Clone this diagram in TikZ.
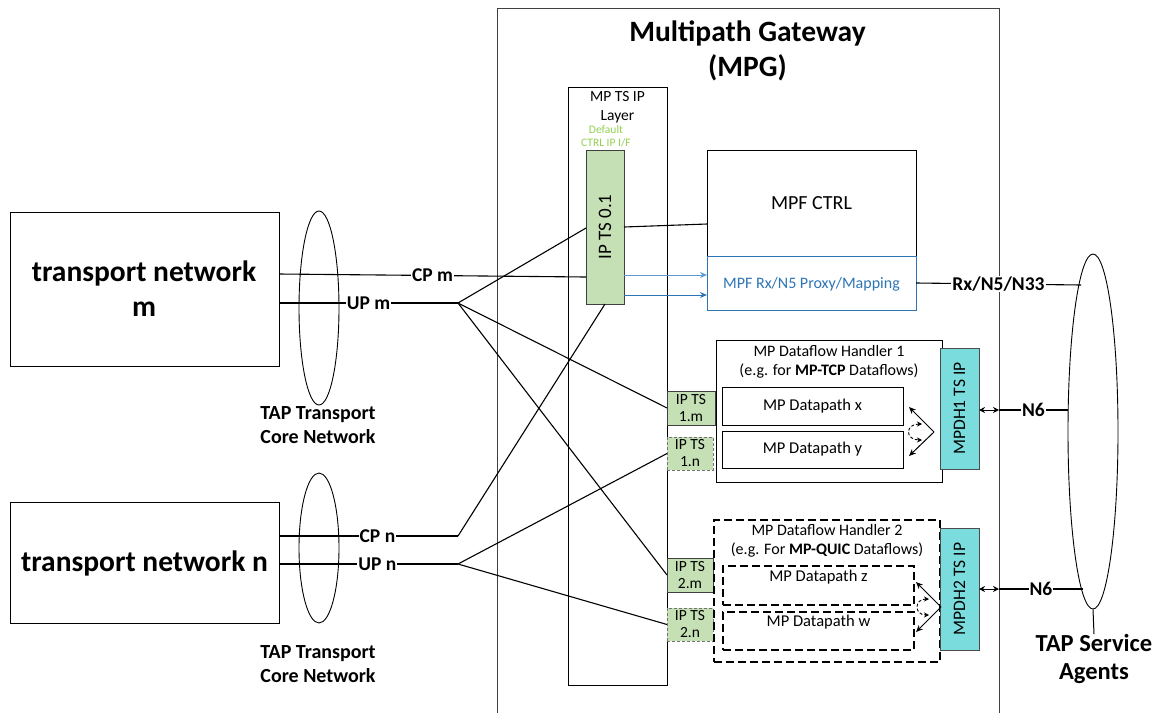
\documentclass[tikz,border=0pt]{standalone}
\usepackage{fontspec}
\setmainfont{Carlito}
\usetikzlibrary{arrows.meta,shapes.geometric,calc}
\definecolor{tsgreen}{HTML}{C5E0B4}
\definecolor{cyanbox}{HTML}{7ADCDC}
\definecolor{mpfblue}{HTML}{2E75B6}
\definecolor{lightblue}{HTML}{5B9BD5}
\definecolor{ctrlgreen}{HTML}{92D050}
\begin{document}
\begin{tikzpicture}[x=1pt,y=-1pt,
  box/.style={draw, line width=1pt, inner sep=0pt, outer sep=0pt},
  tsbox/.style={box, fill=tsgreen, draw=black!75},
  tsdash/.style={box, fill=tsgreen, draw=black!55, dash pattern=on 3pt off 2pt},
  hdash/.style={box, dash pattern=on 8pt off 4pt, line width=1.1pt},
  cybox/.style={box, fill=cyanbox, draw=black!70},
  conn/.style={line width=1.1pt},
  lbl/.style={fill=white, inner sep=1pt, font=\fontsize{19.5}{22}\selectfont\bfseries},
  txt/.style={inner sep=0pt, align=center, font=\fontsize{16}{18.5}\selectfont},
  bigtxt/.style={inner sep=0pt, align=center, font=\fontsize{29.5}{35}\selectfont\bfseries},
  tap/.style={inner sep=0pt, align=center, font=\fontsize{20}{24}\selectfont\bfseries},
  tip/.style={-{Stealth[length=7pt,width=6pt]}},
  dtip/.style={{Stealth[length=6pt,width=6pt]}-{Stealth[length=6pt,width=6pt]}},
  smalldtip/.style={{Stealth[length=5pt,width=5pt]}-{Stealth[length=5pt,width=5pt]}}
]
\useasboundingbox (0,0) rectangle (1160,713);

% MPG outer frame
\draw[line width=0.9pt, black!75] (497,713) -- (497,8) -- (999,8) -- (999,713);
\node[bigtxt] (title) at (747.5,51) {Multipath Gateway\\(MPG)};

% MP TS IP layer
\node[box, minimum width=99, minimum height=598] (layer) at (617.5,386) {};
\node[txt, font=\fontsize{15.5}{19}\selectfont] (layert) at (617.5,107.5) {MP TS IP\\Layer};
\node[txt, text=ctrlgreen, font=\fontsize{11.5}{12.5}\selectfont] (deft) at (606,136) {Default\\CTRL IP I/F};
\node[tsbox, minimum width=38, minimum height=154] (ipts01) at (605,227) {};
\node[inner sep=0pt, rotate=90, font=\fontsize{19}{22}\selectfont] (ipts01t) at (605,227) {IP TS 0.1};

% MPF boxes
\node[box, minimum width=209, minimum height=106] (mpfctrl) at (811.5,203) {};
\node[txt, font=\fontsize{20}{22}\selectfont] (mpfctrlt) at (811.5,203) {MPF CTRL};
\node[box, draw=mpfblue, fill=white, minimum width=209, minimum height=54] (rx) at (811.5,283) {};
\node[txt, text=mpfblue, font=\fontsize{16}{18}\selectfont] (rxt) at (811.5,284) {MPF Rx/N5 Proxy/Mapping};

% transport networks
\node[box, minimum width=269, minimum height=154] (tnm) at (144.5,289) {};
\node[bigtxt] (tnmt) at (144,289) {transport network\\m};
\node[box, minimum width=269, minimum height=121] (tnn) at (144.5,562.5) {};
\node[bigtxt] (tnnt) at (144.5,563) {transport network n};

% ellipses
\node[draw, ellipse, line width=0.9pt, minimum width=40, minimum height=194, inner sep=0pt] (elm) at (319,308) {};
\node[draw, ellipse, line width=0.9pt, minimum width=40, minimum height=150, inner sep=0pt] (eln) at (319,548) {};
\node[tap] (tapm) at (318,425) {TAP Transport\\Core Network};
\node[tap] (tapn) at (318,664) {TAP Transport\\Core Network};
\node[draw, ellipse, line width=0.9pt, minimum width=50, minimum height=355, inner sep=0pt] (sa) at (1093,431.5) {};
\node[tap, font=\fontsize{24.5}{28}\selectfont\bfseries] (sat) at (1094,659) {TAP Service\\Agents};
\draw[line width=1pt] (sa.south) -- (sat.north);

% IP TS boxes
\node[tsbox, minimum width=48, minimum height=34] (ts1m) at (691,408) {};
\node[txt, font=\fontsize{15.5}{17}\selectfont] at (ts1m) {IP TS\\1.m};
\node[tsdash, minimum width=46, minimum height=33] (ts1n) at (690,453.5) {};
\node[txt, font=\fontsize{15.5}{17}\selectfont] at (ts1n) {IP TS\\1.n};
\node[tsbox, minimum width=46, minimum height=34] (ts2m) at (690,575) {};
\node[txt, font=\fontsize{15.5}{17}\selectfont] at (ts2m) {IP TS\\2.m};
\node[tsdash, minimum width=46, minimum height=33] (ts2n) at (690,624.5) {};
\node[txt, font=\fontsize{15.5}{17}\selectfont] at (ts2n) {IP TS\\2.n};

% Handler 1
\node[box, minimum width=226, minimum height=142] (h1) at (829,411) {};
\node[txt] (h1t) at (829,362) {MP Dataflow Handler 1\\(e.g. for \textbf{MP-TCP} Dataflows)};
\node[box, minimum width=181, minimum height=38] (dpx) at (812.5,406) {};
\node[txt, font=\fontsize{16.5}{18}\selectfont] at (dpx) {MP Datapath x};
\node[box, minimum width=181, minimum height=37] (dpy) at (812.5,449.5) {};
\node[txt, font=\fontsize{16.5}{18}\selectfont] at (dpy) {MP Datapath y};
\node[cybox, minimum width=39, minimum height=121] (mpdh1) at (959.5,408.5) {};
\node[inner sep=0pt, rotate=90, font=\fontsize{17.5}{20}\selectfont] at (mpdh1) {MPDH1 TS IP};

% Handler 2
\node[hdash, minimum width=226, minimum height=142] (h2) at (827,591) {};
\node[txt] (h2t) at (827,541) {MP Dataflow Handler 2\\(e.g. For \textbf{MP-QUIC} Dataflows)};
\node[hdash, minimum width=191, minimum height=39] (dpz) at (818.5,585.5) {};
\node[txt, font=\fontsize{16.5}{18}\selectfont] at (818.5,577) {MP Datapath z};
\node[hdash, minimum width=191, minimum height=38] (dpw) at (818.5,631) {};
\node[txt, font=\fontsize{16.5}{18}\selectfont] at (818.5,622) {MP Datapath w};
\node[cybox, minimum width=39, minimum height=122] (mpdh2) at (959.5,589) {};
\node[inner sep=0pt, rotate=90, font=\fontsize{17.5}{20}\selectfont] at (mpdh2) {MPDH2 TS IP};

% junction coordinates
\coordinate (jum) at (458,303);
\coordinate (jcn) at (458,536);
\coordinate (jun) at (458,564);
\coordinate (erx) at (1081,285);
\coordinate (en61) at (1068,410);
\coordinate (en62) at (1083,589);
\coordinate (fr1) at (999,410);
\coordinate (fr2) at (999,589);

% connectors
\draw[conn] (tnm.east |- 0,274) -- node[lbl, pos=0.5] {CP m} (ipts01.west |- 0,277);
\draw[conn] (tnm.east |- 0,303) -- node[lbl, pos=0.5] {UP m} (jum);
\draw[conn] (jum) -- (ipts01.west |- 0,228);
\draw[conn] (jum) -- (ts1m.west);
\draw[conn] (jum) -- (ts2m.west);
\draw[conn] (ipts01.south) -- (jcn);
\draw[conn] (tnn.east |- 0,536) -- node[lbl, pos=0.55] {CP n} (jcn);
\draw[conn] (tnn.east |- 0,564) -- node[lbl, pos=0.55] {UP n} (jun);
\draw[conn] (jun) -- (ts1n.west);
\draw[conn] (jun) -- (ts2n.west);
\draw[conn] (ipts01.east |- 0,227) -- (mpfctrl.west |- 0,224);
\draw[line width=1pt, lightblue, tip] (ipts01.east |- 0,275) -- (rx.west |- 0,275);
\draw[line width=1pt, mpfblue, tip] (ipts01.east |- 0,295) -- (rx.west |- 0,295);
\draw[conn] (rx.east) -- node[lbl, pos=0.5] {Rx/N5/N33} (erx);

% N6
\draw[line width=1pt, dtip] (mpdh1.east |- fr1) -- (fr1);
\draw[conn] (fr1) -- node[lbl, pos=0.5] {N6} (en61);
\draw[line width=1pt, dtip] (mpdh2.east |- fr2) -- (fr2);
\draw[conn] (fr2) -- node[lbl, pos=0.5] {N6} (en62);

% internal arrows handler 1
\coordinate (p1) at (934,432);
\draw[line width=1pt, tip] (p1) -- (909,407);
\draw[line width=1pt, tip] (p1) -- (909,456);
\draw[line width=0.9pt, densely dashed, smalldtip] (922,424) .. controls (905,424) and (905,440) .. (922,440);

% internal arrows handler 2
\coordinate (p2) at (941,607);
\draw[line width=1pt, tip] (p2) -- (916,582);
\draw[line width=1pt, tip] (p2) -- (916,632);
\draw[line width=0.9pt, densely dashed, smalldtip] (929,599) .. controls (914,599) and (914,615) .. (929,615);
\end{tikzpicture}
\end{document}
